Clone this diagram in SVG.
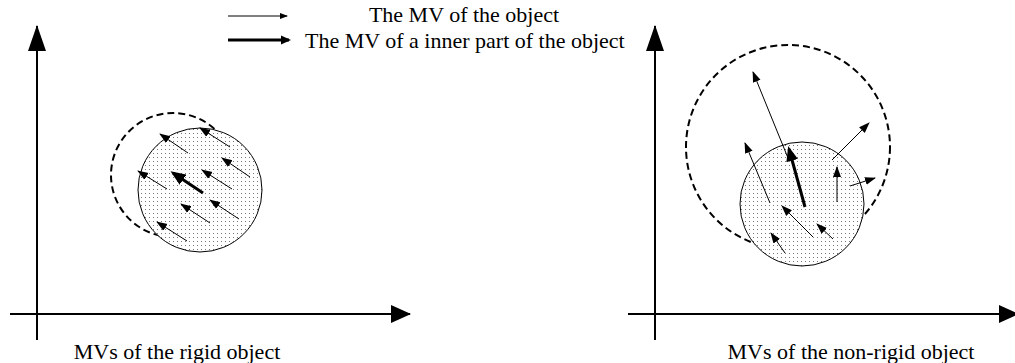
<svg xmlns="http://www.w3.org/2000/svg" width="1015" height="363" viewBox="0 0 1015 363">
<style>
.ax{stroke:#000;stroke-width:2;fill:none}
.mv{stroke:#000;stroke-width:1;fill:none;marker-end:url(#hThin)}
.mvb{stroke:#000;stroke-width:3;fill:none;marker-end:url(#hThick)}
.obj{fill:url(#dots);stroke:#000;stroke-width:1}
.prev{fill:none;stroke:#000;stroke-width:2;stroke-dasharray:7,4}
.t{font-family:"Liberation Serif","Times New Roman",serif;font-size:22px;fill:#000}
</style>
<defs>
<pattern id="dots" width="4" height="4" patternUnits="userSpaceOnUse">
<rect width="4" height="4" fill="#fff"/>
<rect x="1" y="1" width="1" height="1" fill="#777"/>
</pattern>
<marker id="hThin" markerUnits="userSpaceOnUse" markerWidth="12" markerHeight="10" viewBox="0 -5 12 10" refX="10" refY="0" orient="auto">
<path d="M0,-4L11,0L0,4Z" fill="#000"/>
</marker>
<marker id="hThick" markerUnits="userSpaceOnUse" markerWidth="16" markerHeight="14" viewBox="0 -7 16 14" refX="12" refY="0" orient="auto">
<path d="M0,-6L15,0L0,6Z" fill="#000"/>
</marker>
<marker id="hLeg" markerUnits="userSpaceOnUse" markerWidth="10" markerHeight="8" viewBox="0 -4 10 8" refX="7" refY="0" orient="auto">
<path d="M0,-3L8,0L0,3Z" fill="#000"/>
</marker>
<marker id="hLegB" markerUnits="userSpaceOnUse" markerWidth="12" markerHeight="10" viewBox="0 -5 12 10" refX="8" refY="0" orient="auto">
<path d="M0,-4.5L10,0L0,4.5Z" fill="#000"/>
</marker>
<marker id="hAxV" markerUnits="userSpaceOnUse" markerWidth="28" markerHeight="20" viewBox="0 -10 28 20" refX="25" refY="0" orient="auto">
<path d="M0,-9L26,0L0,9Z" fill="#000"/>
</marker>
<marker id="hAxH" markerUnits="userSpaceOnUse" markerWidth="22" markerHeight="20" viewBox="0 -10 22 20" refX="19" refY="0" orient="auto">
<path d="M0,-9L20,0L0,9Z" fill="#000"/>
</marker>
</defs>
<rect width="1015" height="363" fill="#fff"/>

<g id="legend">
<line x1="228" y1="16" x2="287" y2="16" stroke="#000" stroke-width="1" marker-end="url(#hLeg)"/>
<line x1="228" y1="40" x2="289" y2="40" stroke="#000" stroke-width="3" marker-end="url(#hLegB)"/>
<text class="t" x="464" y="22" text-anchor="middle">The MV of the object</text>
<text class="t" x="305" y="48">The MV of a inner part of the object</text>
</g>

<g id="rigid-axes">
<path class="ax" d="M37,340L37,26" marker-end="url(#hAxV)"/>
<path class="ax" d="M10,314L410,314" marker-end="url(#hAxH)"/>
<text class="t" x="177" y="359" text-anchor="middle">MVs of the rigid object</text>
</g>

<g id="rigid-previous">
<circle class="prev" cx="173" cy="175" r="62"/>
</g>
<g id="rigid-object">
<circle class="obj" cx="200" cy="190" r="62"/>
</g>

<g id="nonrigid-axes">
<path class="ax" d="M655,340L655,26" marker-end="url(#hAxV)"/>
<path class="ax" d="M628,314L1018,314" marker-end="url(#hAxH)"/>
<text class="t" x="851" y="359" text-anchor="middle">MVs of the non-rigid object</text>
</g>

<g id="nonrigid-previous">
<circle class="prev" cx="788" cy="147" r="102"/>
</g>
<g id="nonrigid-object">
<circle class="obj" cx="802" cy="204" r="62"/>
</g>

<g id="connectors">
<line class="mv" x1="188" y1="153" x2="160" y2="134"/>
<line class="mv" x1="230" y1="147" x2="200" y2="128"/>
<line class="mv" x1="250" y1="177" x2="222" y2="158"/>
<line class="mv" x1="167" y1="189" x2="138" y2="171"/>
<line class="mvb" x1="203" y1="193" x2="173" y2="173"/>
<line class="mv" x1="232" y1="189" x2="202" y2="170"/>
<line class="mv" x1="210" y1="223" x2="181" y2="204"/>
<line class="mv" x1="239" y1="219" x2="210" y2="200"/>
<line class="mv" x1="187" y1="241" x2="157" y2="222"/>

<line class="mv" x1="788" y1="158" x2="753" y2="72"/>
<line class="mvb" x1="805" y1="207" x2="789" y2="149"/>
<line class="mv" x1="770" y1="203" x2="745" y2="143"/>
<line class="mv" x1="832" y1="160" x2="869" y2="123"/>
<line class="mv" x1="837" y1="202" x2="837" y2="167"/>
<line class="mv" x1="850" y1="186" x2="875" y2="178"/>
<line class="mv" x1="813" y1="237" x2="782" y2="206"/>
<line class="mv" x1="833" y1="239" x2="817" y2="224"/>
<line class="mv" x1="785" y1="253" x2="771" y2="233"/>
</g>
</svg>
